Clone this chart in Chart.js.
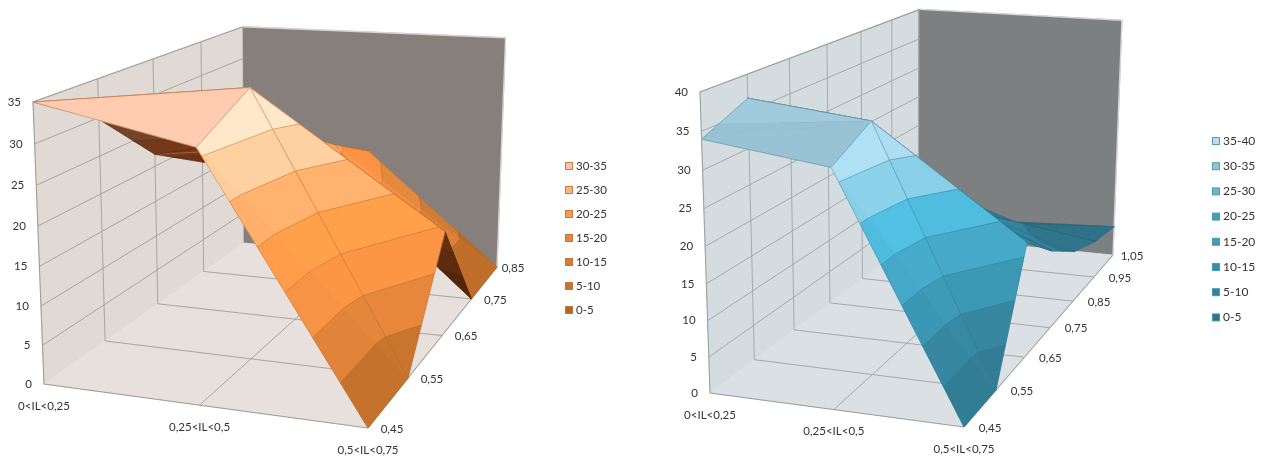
<!DOCTYPE html>
<html>
<head>
<meta charset="utf-8">
<title>IL surfaces</title>
<script src="https://cdn.jsdelivr.net/npm/chart.js@4"></script>
<style>
  html, body { margin: 0; padding: 0; background: #fff; }
  canvas { position: absolute; top: 0; }
</style>
</head>
<body>
<canvas id="surface-a" width="640" height="457" style="left:0"></canvas>
<canvas id="surface-b" width="622" height="457" style="left:640px"></canvas>
<script>
// ── values ──────────────────────────────────────────
const categories = ["0<IL<0,25", "0,25<IL<0,5", "0,5<IL<0,75"];

const orangeDepths = ["0,45", "0,55", "0,65", "0,75", "0,85"];
const orangeTicks  = [0, 5, 10, 15, 20, 25, 30, 35];
const orangeBands  = ["30-35", "25-30", "20-25", "15-20", "10-15", "5-10", "0-5"];
const orangeLow    = [35, 29.8, 21.7, 17, 14];
const orangeMid    = [31, 35, 26, 21, 16.6];
const orangeHigh   = [0, 0, 14.3, 0, 0];

const blueDepths = ["0,45", "0,55", "0,65", "0,75", "0,85", "0,95", "1,05"];
const blueTicks  = [0, 5, 10, 15, 20, 25, 30, 35, 40];
const blueBands  = ["35-40", "30-35", "25-30", "20-25", "15-20", "10-15", "5-10", "0-5"];
const blueLow    = [34, 36.8, 30, 25, 25, 15, 10];
const blueMid    = [31.8, 35, 24, 16, 13, 7, 4.2];
const blueHigh   = [0, 0, 16.7, 11.8, 8, 6, 5];

// ── styles ──────────────────────────────────────────
const orangeFaces = [[290, 228, 198], [282, 206, 158], [276, 176, 108], [272, 158, 74], [248, 148, 68], [226, 133, 58], [198, 115, 44]];
const orangeSwatches = ["#fac3a5", "#f8b482", "#f59b5a", "#e6873c", "#d77d37", "#c87332", "#af6428"];
const blueFaces = [[185, 232, 252], [174, 222, 242], [138, 208, 232], [80, 190, 224], [70, 170, 202], [60, 154, 182], [56, 136, 162], [50, 126, 150]];
const blueSwatches = ["#bedce8", "#91c3d2", "#73b2c6", "#3ca0be", "#3c9cba", "#3291aa", "#32829b", "#2d738c"];

const FONT = "Lato, 'Open Sans', sans-serif";

const SETUPS = [
  {
    id: "surface-a", xMin: 0, xMax: 640,
    rows: [orangeLow, orangeMid, orangeHigh], depths: orangeDepths, ticks: orangeTicks,
    bands: orangeBands, faces: orangeFaces, swatches: orangeSwatches,
    floor: { a: [44, 384], b: [368, 428], c: [497, 267], d: [244, 243] },
    tops: { a: [33, 102], c: [505.5, 40] },
    wall: "#e0d9d4", ground: "#e8e0dc", back: "#877f7c",
    grid: "#a9a5a2", backGrid: "rgba(150,130,125,0.25)", edge: "#a09d9b",
    mesh: "rgba(180,100,40,0.5)", fold: "rgba(195,110,50,0.85)", under: [0.42, 0.32, 0.25],
    depthDx: 24, depthLastDx: 16,
    legend: { x: 565, y: 166, step: 24, size: 11.5, border: "rgba(190,100,40,0.8)" },
  },
  {
    id: "surface-b", xMin: 640, xMax: 1262,
    rows: [blueLow, blueMid, blueHigh], depths: blueDepths, ticks: blueTicks,
    bands: blueBands, faces: blueFaces, swatches: blueSwatches,
    floor: { a: [710, 393], b: [964, 427], c: [1113, 255], d: [919, 236] },
    tops: { a: [700, 92], c: [1122, 19] },
    wall: "#d5dce0", ground: "#dae0e4", back: "#7d8081",
    grid: "#a4a9ac", backGrid: "rgba(140,128,125,0.25)", edge: "#9da0a2",
    mesh: "rgba(40,112,138,0.42)", fold: "rgba(40,112,138,0.55)", under: [0.3, 0.3, 0.3],
    depthDx: 26, depthLastDx: 19,
    legend: { x: 1212, y: 141, step: 25.2, size: 12, border: "rgba(70,150,175,0.9)" },
  },
];

// ── projection ──────────────────────────────────────
// perspective box built from the floor corners and the two wall heights
function makeCamera(setup) {
  const { a, b, c, d } = setup.floor;
  const nu = setup.rows.length - 1;
  const nv = setup.depths.length - 1;
  const zMax = setup.ticks.at(-1);

  const dx1 = b[0] - c[0], dx2 = d[0] - c[0], sx = a[0] - b[0] + c[0] - d[0];
  const dy1 = b[1] - c[1], dy2 = d[1] - c[1], sy = a[1] - b[1] + c[1] - d[1];
  const det = dx1 * dy2 - dx2 * dy1;
  const g = (sx * dy2 - dx2 * sy) / det;
  const h = (dx1 * sy - sx * dy1) / det;

  // vertical lines meet in one point far below the floor
  const ta = setup.tops.a, tc = setup.tops.c;
  const ka = (ta[0] - a[0]) / (ta[1] - a[1]);
  const kc = (tc[0] - c[0]) / (tc[1] - c[1]);
  const vy = (c[0] - a[0] + ka * a[1] - kc * c[1]) / (ka - kc);
  const vx = a[0] + ka * (vy - a[1]);
  const i = (ta[1] - a[1]) / (vy - ta[1]);

  return (u, v, z) => {
    const s = u / nu, t = v / nv, k = z / zMax;
    const w = 1 + g * s + h * t + i * k;
    return {
      x: (a[0] + (b[0] - a[0] + g * b[0]) * s + (d[0] - a[0] + h * d[0]) * t + vx * i * k) / w,
      y: (a[1] + (b[1] - a[1] + g * b[1]) * s + (d[1] - a[1] + h * d[1]) * t + vy * i * k) / w,
    };
  };
}

// ── surface helpers ─────────────────────────────────
function mix(p, q, f) {
  return { u: p.u + (q.u - p.u) * f, v: p.v + (q.v - p.v) * f, z: p.z + (q.z - p.z) * f };
}

// keeps the part of a polygon on one side of a height level
function clipLevel(poly, level, keepAbove) {
  const out = [];
  poly.forEach((p, i) => {
    const q = poly[(i + 1) % poly.length];
    const pIn = keepAbove ? p.z >= level : p.z <= level;
    const qIn = keepAbove ? q.z >= level : q.z <= level;
    if (pIn) out.push(p);
    if (pIn !== qIn) out.push(mix(p, q, (level - p.z) / (q.z - p.z)));
  });
  return out;
}

function contourSegment(tri, level) {
  const hits = [];
  tri.forEach((p, i) => {
    const q = tri[(i + 1) % 3];
    if ((p.z - level) * (q.z - level) < 0) hits.push(mix(p, q, (level - p.z) / (q.z - p.z)));
  });
  return hits.length === 2 ? hits : null;
}

function brightness(tri, zMax, nv) {
  const box = (p) => [p.u, p.v * 2 / nv, p.z / zMax * 1.2];
  const [a, b, c] = tri.map(box);
  const e1 = [b[0] - a[0], b[1] - a[1], b[2] - a[2]];
  const e2 = [c[0] - a[0], c[1] - a[1], c[2] - a[2]];
  const n = [e1[1] * e2[2] - e1[2] * e2[1], e1[2] * e2[0] - e1[0] * e2[2], e1[0] * e2[1] - e1[1] * e2[0]];
  const len = Math.hypot(...n) || 1;
  return 0.78 + 0.3 * (0.8 * n[0] - 0.3 * n[1] + 0.2 * n[2]) / len;
}

function rgb(c) {
  return `rgb(${c.map((x) => Math.min(255, Math.round(x))).join(",")})`;
}

function shapeSet(points, color) {
  return {
    data: [...points, points[0]], showLine: true, fill: "shape", backgroundColor: color,
    borderColor: color, borderWidth: 0.7, pointRadius: 0, tension: 0,
  };
}

function lineSet(points, color, width) {
  return {
    data: points, showLine: true, fill: false, borderColor: color,
    borderWidth: width, pointRadius: 0, tension: 0,
  };
}

// ── datasets ────────────────────────────────────────
function wallSets(setup, project) {
  const nu = setup.rows.length - 1;
  const nv = setup.depths.length - 1;
  const zMax = setup.ticks.at(-1);
  const sets = [];

  sets.push(shapeSet([project(0, 0, 0), project(0, nv, 0), project(0, nv, zMax), project(0, 0, zMax)], setup.wall));
  sets.push(shapeSet([project(0, nv, 0), project(nu, nv, 0), project(nu, nv, zMax), project(0, nv, zMax)], setup.back));
  sets.push(shapeSet([project(0, 0, 0), project(nu, 0, 0), project(nu, nv, 0), project(0, nv, 0)], setup.ground));

  setup.ticks.forEach((t) => {
    if (t === 0 || t === zMax) return;
    sets.push(lineSet([project(0, 0, t), project(0, nv, t)], setup.grid, 1));
    sets.push(lineSet([project(0, nv, t), project(nu, nv, t)], setup.backGrid, 0.8));
  });
  for (let v = 1; v < nv; v++) {
    sets.push(lineSet([project(0, v, 0), project(0, v, zMax)], setup.grid, 1));
    sets.push(lineSet([project(0, v, 0), project(nu, v, 0)], setup.grid, 1));
  }
  for (let u = 1; u < nu; u++) {
    sets.push(lineSet([project(u, 0, 0), project(u, nv, 0)], setup.grid, 1));
    sets.push(lineSet([project(u, nv, 0), project(u, nv, zMax)], setup.backGrid, 0.8));
  }

  // box outline
  sets.push(lineSet([project(nu, 0, 0), project(0, 0, 0), project(0, 0, zMax), project(0, nv, zMax)], setup.edge, 1.1));
  sets.push(lineSet([project(nu, 0, 0), project(nu, nv, 0)], setup.edge, 1.1));
  sets.push(lineSet([project(0, nv, zMax), project(nu, nv, zMax), project(nu, nv, 0)], "#d6d6d6", 1.4));
  return sets;
}

function triangleSets(tri, edges, setup, project) {
  const zMax = setup.ticks.at(-1);
  const nv = setup.depths.length - 1;
  const [p, q, r] = tri.map((n) => project(n.u, n.v, n.z));
  const topSide = (q.x - p.x) * (r.y - p.y) - (q.y - p.y) * (r.x - p.x) < 0;
  const lit = brightness(tri, zMax, nv);
  const sets = [];

  setup.bands.forEach((band, i) => {
    const [lo, hi] = band.split("-").map(Number);
    const piece = clipLevel(clipLevel(tri, lo, true), hi, false);
    if (piece.length < 3) return;
    const base = setup.faces[i];
    const color = topSide ? base.map((c) => c * lit) : base.map((c, k) => c * setup.under[k]);
    sets.push(shapeSet(piece.map((n) => project(n.u, n.v, n.z)), rgb(color)));
  });

  const lineColor = topSide ? setup.mesh : "rgba(30,20,10,0.28)";
  setup.ticks.forEach((t) => {
    const seg = contourSegment(tri, t);
    if (seg) sets.push(lineSet(seg.map((n) => project(n.u, n.v, n.z)), lineColor, 0.8));
  });
  edges.forEach(([from, to, color]) => {
    sets.push(lineSet([tri[from], tri[to]].map((n) => project(n.u, n.v, n.z)), color || lineColor, 0.8));
  });
  return sets;
}

function surfaceSets(setup, project) {
  const { rows } = setup;
  const nu = rows.length - 1;
  const nv = setup.depths.length - 1;
  const node = (u, v) => ({ u, v, z: rows[u][v] });
  const sets = [];

  // far cells first, the corner nearest the viewer last
  for (let v = nv - 1; v >= 0; v--) {
    for (let u = 0; u < nu; u++) {
      const farTri = [node(u, v), node(u + 1, v + 1), node(u, v + 1)];
      const nearTri = [node(u, v), node(u + 1, v), node(u + 1, v + 1)];
      const [a, b, c] = farTri.map((n) => project(n.u, n.v, n.z));
      const farTop = (b.x - a.x) * (c.y - a.y) - (b.y - a.y) * (c.x - a.x) < 0;
      sets.push(...triangleSets(farTri, [[1, 2], [2, 0]], setup, project));
      // the shared diagonal only shows where the cell folds over
      const nearEdges = farTop ? [[0, 1], [1, 2]] : [[0, 1], [1, 2], [2, 0, setup.fold]];
      sets.push(...triangleSets(nearTri, nearEdges, setup, project));
    }
  }
  return sets;
}

// ── axis texts and legend ───────────────────────────
const axisTextPlugin = {
  id: "axisText",
  afterDatasetsDraw(chart, args, opts) {
    const { setup, project } = opts;
    const { ctx, scales } = chart;
    const nu = setup.rows.length - 1;
    const nv = setup.depths.length - 1;
    const px = (x) => scales.x.getPixelForValue(x);
    const py = (y) => scales.y.getPixelForValue(y);

    ctx.save();
    ctx.font = `11.5px ${FONT}`;
    ctx.fillStyle = "#333";
    ctx.textBaseline = "middle";

    ctx.textAlign = "right";
    setup.ticks.forEach((t) => {
      const p = project(0, 0, t);
      ctx.fillText(String(t), px(p.x - 12), py(p.y));
    });

    ctx.textAlign = "center";
    categories.forEach((label, u) => {
      const p = project(u, 0, 0);
      ctx.fillText(label, px(p.x), py(p.y + 22));
    });

    setup.depths.forEach((label, v) => {
      const p = project(nu, v, 0);
      const dx = v === nv ? setup.depthLastDx : setup.depthDx;
      ctx.fillText(label, px(p.x + dx), py(p.y + 1));
    });

    const lg = setup.legend;
    ctx.textAlign = "left";
    ctx.font = `${lg.size}px ${FONT}`;
    setup.bands.forEach((band, i) => {
      const y = lg.y + lg.step * i;
      ctx.fillStyle = setup.swatches[i];
      ctx.strokeStyle = lg.border;
      ctx.lineWidth = 1;
      ctx.fillRect(px(lg.x) + 0.5, py(y) - 3.5, 7, 7);
      ctx.strokeRect(px(lg.x) + 0.5, py(y) - 3.5, 7, 7);
      ctx.fillStyle = "#333";
      ctx.fillText(band, px(lg.x + 11), py(y));
    });
    ctx.restore();
  },
};

// ── charts ──────────────────────────────────────────
function drawSurface(setup) {
  const project = makeCamera(setup);
  // Chart.js paints the first dataset last
  const datasets = [...wallSets(setup, project), ...surfaceSets(setup, project)].reverse();

  new Chart(document.getElementById(setup.id), {
    type: "scatter",
    plugins: [axisTextPlugin],
    data: { datasets },
    options: {
      responsive: false,
      animation: false,
      layout: { padding: 0 },
      plugins: {
        legend: { display: false },
        tooltip: { enabled: false },
        axisText: { setup, project },
      },
      scales: {
        x: { type: "linear", display: false, min: setup.xMin, max: setup.xMax },
        y: { type: "linear", display: false, min: 0, max: 457, reverse: true },
      },
    },
  });
}

SETUPS.forEach(drawSurface);
</script>
</body>
</html>
